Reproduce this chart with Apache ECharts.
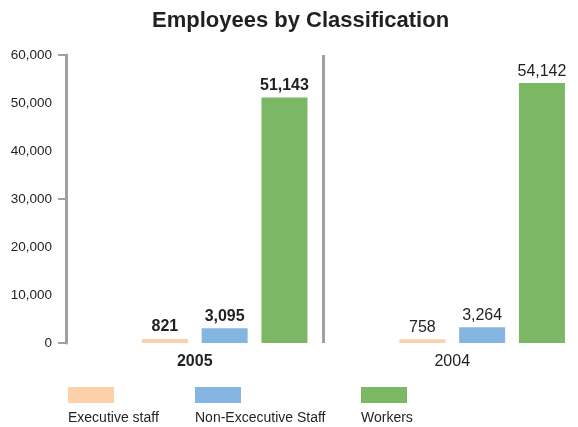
<!DOCTYPE html>
<html>
<head>
<meta charset="utf-8">
<script src="https://cdn.jsdelivr.net/npm/echarts@6/dist/echarts.min.js"></script>
<style>
  html, body { margin: 0; padding: 0; background: #fff; }
  #chart { width: 578px; height: 427px; }
</style>
</head>
<body>
<div id="chart"></div>
<script>
// Employees by classification, 2005 vs 2004
const years = ['2005', '2004'];
const executiveStaff = [821, 758];
const nonExecutiveStaff = [3095, 3264];
const workers = [51143, 54142];
const seriesNames = ['Executive staff', 'Non-Excecutive Staff', 'Workers'];
// major tick marks at 0, 30,000 and 60,000 come from the boundaries of two equal bands
const yTickBands = ['0-30,000', '30,000-60,000'];
const colors = ['#FCD0A8', '#85B6E2', '#7BB764'];
const legendLeft = [68, 195, 361];

const FONT = '"Liberation Sans", Arial, Helvetica, sans-serif';
const INK = '#231f20';
const AXIS_GREY = '#a0a0a0';

const fmt = v => Number(v).toLocaleString('en-US');

// the current year is emphasised in bold
const withLabelWeight = values => values.map((v, i) => ({
  value: v,
  label: { fontWeight: i === 0 ? 'bold' : 'normal' }
}));

const valueSeries = [executiveStaff, nonExecutiveStaff, workers].map((vals, k) => ({
  name: seriesNames[k],
  type: 'bar',
  xAxisIndex: 0,
  yAxisIndex: 0,
  barWidth: 46,
  barGap: '30%',
  itemStyle: { color: colors[k] },
  label: {
    show: true,
    position: 'top',
    distance: 4,
    fontFamily: FONT,
    fontSize: 16,
    color: INK,
    formatter: p => fmt(p.value)
  },
  data: withLabelWeight(vals)
}));

// empty leading slot keeps the bar groups on the right of each band
const spacer = {
  name: 'spacer',
  type: 'bar',
  xAxisIndex: 0,
  yAxisIndex: 0,
  barWidth: 46,
  barGap: '30%',
  silent: true,
  data: years.map(() => null)
};

// swatch above, caption below: one legend per row and item
const legends = [];
seriesNames.forEach((name, k) => {
  legends.push({
    data: [{ name: name, icon: 'rect' }],
    left: legendLeft[k],
    top: 387,
    padding: 0,
    itemWidth: 46,
    itemHeight: 16,
    selectedMode: false,
    formatter: () => ''
  });
  legends.push({
    data: [{ name: name, icon: 'rect', itemStyle: { opacity: 0 } }],
    left: legendLeft[k] - 5,
    top: 411,
    padding: 0,
    itemWidth: 0,
    itemHeight: 0,
    selectedMode: false,
    textStyle: { fontFamily: FONT, fontSize: 14, color: INK }
  });
});

const chart = echarts.init(document.getElementById('chart'), null, { renderer: 'canvas' });
chart.setOption({
  animation: false,
  backgroundColor: '#fff',
  title: {
    text: 'Employees by Classification',
    left: 152,
    top: 10,
    padding: 0,
    textStyle: { fontFamily: FONT, fontWeight: 'bold', fontSize: 22, color: INK }
  },
  legend: legends,
  // the plot runs just past the canvas so only the middle band divider shows
  grid: {
    left: 66, top: 55, width: 515, height: 288,
    containLabel: false,
    outerBoundsMode: 'none'
  },
  xAxis: {
    type: 'category',
    data: years,
    axisLine: { show: false },
    axisTick: { show: false },
    splitLine: {
      show: true,
      lineStyle: { color: AXIS_GREY, width: 3 }
    },
    axisLabel: {
      margin: 11,
      fontFamily: FONT,
      fontSize: 16,
      color: INK,
      formatter: (v, i) => i === 0 ? '{b|' + v + '}' : '{n|' + v + '}',
      rich: {
        b: { fontFamily: FONT, fontSize: 16, fontWeight: 'bold', color: INK },
        n: { fontFamily: FONT, fontSize: 16, fontWeight: 'normal', color: INK }
      }
    }
  },
  yAxis: [
    {
      type: 'value',
      min: 0,
      max: 60000,
      interval: 10000,
      axisLine: { show: true, lineStyle: { color: AXIS_GREY, width: 3 } },
      axisTick: { show: false },
      splitLine: { show: false },
      axisLabel: {
        margin: 14,
        fontFamily: FONT,
        fontSize: 13.5,
        color: INK,
        formatter: v => fmt(v)
      }
    },
    {
      type: 'category',
      position: 'left',
      data: yTickBands,
      boundaryGap: true,
      axisLine: { show: false },
      axisTick: { show: true, length: 8, lineStyle: { color: AXIS_GREY, width: 2 } },
      axisLabel: { show: false },
      splitLine: { show: false }
    }
  ],
  series: [spacer].concat(valueSeries)
});
</script>
</body>
</html>
